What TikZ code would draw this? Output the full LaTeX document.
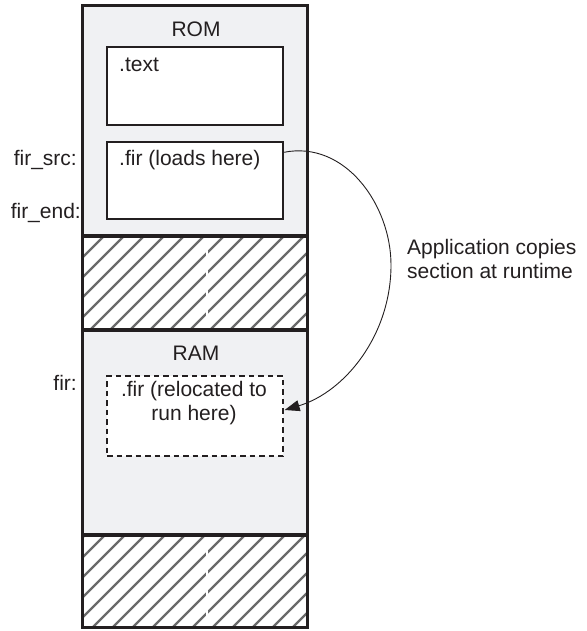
\documentclass[tikz,border=0pt]{standalone}
\usepackage{fontspec}
\setmainfont{Liberation Sans}
\usetikzlibrary{arrows.meta}
\definecolor{memfill}{HTML}{F0F1F3}
\definecolor{hatchgray}{HTML}{6A6A6A}
\definecolor{inkdark}{HTML}{231F20}
\begin{document}
\begin{tikzpicture}[x=1pt,y=-1pt,
  region/.style={rectangle, inner sep=0pt, minimum width=224pt, fill=memfill},
  hatchregion/.style={rectangle, inner sep=0pt, minimum width=224pt, fill=white},
  outerline/.style={draw=inkdark, line width=2.8pt},
  secbox/.style={rectangle, inner sep=0pt, minimum width=176pt, draw=inkdark, line width=1.3pt, fill=white},
  dashbox/.style={secbox, dash pattern=on 5.5pt off 4pt},
  hatchline/.style={draw=hatchgray, line width=2.2pt},
  lbl/.style={font=\fontsize{21}{24}\selectfont, text=inkdark, inner sep=0pt},
  copyarrow/.style={draw=inkdark, line width=0.9pt, -{Triangle[length=15pt,width=11pt]}}
]
\useasboundingbox (0,0) rectangle (586,631);

% memory regions
\node[region, minimum height=230pt] (rom) at (195,121) {};
\node[hatchregion, minimum height=94pt] (gapa) at (195,283) {};
\node[region, minimum height=205pt] (ram) at (195,432.5) {};
\node[hatchregion, minimum height=92pt] (gapb) at (195,581) {};

% hatching
\begin{scope}
  \clip (gapa.south west) rectangle (gapa.north east);
  \foreach \i in {-20,0,...,320} \draw[hatchline] (\i,340) -- ++(120,-120);
\end{scope}
\begin{scope}
  \clip (gapb.south west) rectangle (gapb.north east);
  \foreach \i in {-20,0,...,320} \draw[hatchline] (\i,640) -- ++(120,-120);
\end{scope}
\draw[white, line width=1.2pt] (207,237) -- (207,329);
\draw[white, line width=1.2pt] (207,536) -- (207,626);

% outer borders
\draw[outerline] (rom.north west) rectangle (rom.south east);
\draw[outerline] (gapa.north west) rectangle (gapa.south east);
\draw[outerline] (ram.north west) rectangle (ram.south east);
\draw[outerline] (gapb.north west) rectangle (gapb.south east);

% section boxes
\node[secbox, minimum height=78pt] (textsec) at (195,86) {};
\node[secbox, minimum height=77pt] (firsrc) at (195,180.5) {};
\node[dashbox, minimum height=80pt] (firrun) at (195,416) {};

% labels
\node[lbl, anchor=base] (romlbl) at (196,37) {ROM};
\node[lbl, anchor=base] (ramlbl) at (196,360) {RAM};
\node[lbl, anchor=base west] (textlbl) at (119,72) {.text};
\node[lbl, anchor=base west] (firlbl) at (119,165) {.fir (loads here)};
\node[lbl, anchor=north, align=center] (runlbl) at (194,381) {.fir (relocated to\\run here)};
\node[lbl, anchor=base east] (srclbl) at (77,165) {fir\_src:};
\node[lbl, anchor=base east] (endlbl) at (81,218) {fir\_end:};
\node[lbl, anchor=base east] (firaddr) at (77,390) {fir:};
\node[lbl, anchor=north west, align=left] (applbl) at (407,239) {Application copies\\section at runtime};

% copy arrow
\draw[copyarrow] ([yshift=-11pt]firsrc.north east) .. controls (345,140) and (391,205) .. (391,265)
  .. controls (391,335) and (345,392) .. ([xshift=1pt,yshift=6pt]firrun.east);
\end{tikzpicture}
\end{document}
